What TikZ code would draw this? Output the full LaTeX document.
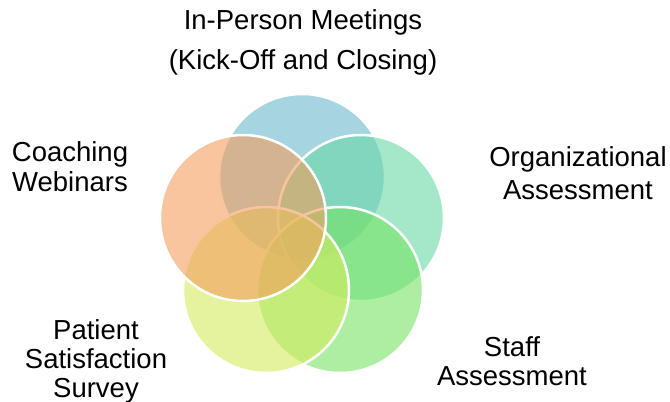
\documentclass[tikz,border=0pt]{standalone}
\usepackage{fontspec}
\setmainfont{Liberation Sans}
\definecolor{meetblue}{RGB}{107,185,205}
\definecolor{orgteal}{RGB}{103,217,165}
\definecolor{staffgreen}{RGB}{118,227,100}
\definecolor{patlime}{RGB}{213,235,93}
\definecolor{coachorange}{RGB}{243,158,93}
\tikzset{petal/.style={fill=#1,fill opacity=0.6,draw=white,line width=2.5pt},
  lbl/.style={align=center,inner sep=0pt}}
\newcommand{\lblfont}[1]{\fontsize{27.5}{#1}\selectfont}
\begin{document}
\begin{tikzpicture}[x=1pt,y=1pt]
\useasboundingbox(0,0)rectangle(670,402);
\foreach \cx/\cy/\c in {302/225/meetblue,361/184/orgteal,340/112/staffgreen,266/112/patlime,243/184/coachorange}{\draw[petal=\c](\cx,\cy)circle(83);}
%
\node[lbl,font=\lblfont{40}](meet)at(303,360){In-Person Meetings\\(Kick-Off and Closing)};
\node[lbl,font=\lblfont{30}](coach)at(70,235){Coaching\\Webinars};
\node[lbl,font=\lblfont{33}](org)at(578,229){Organizational\\Assessment};
\node[lbl,font=\lblfont{29}](pat)at(96,41){Patient\\Satisfaction\\Survey};
\node[lbl,font=\lblfont{29}](staff)at(512,41){Staff\\Assessment};
\end{tikzpicture}
\end{document}
